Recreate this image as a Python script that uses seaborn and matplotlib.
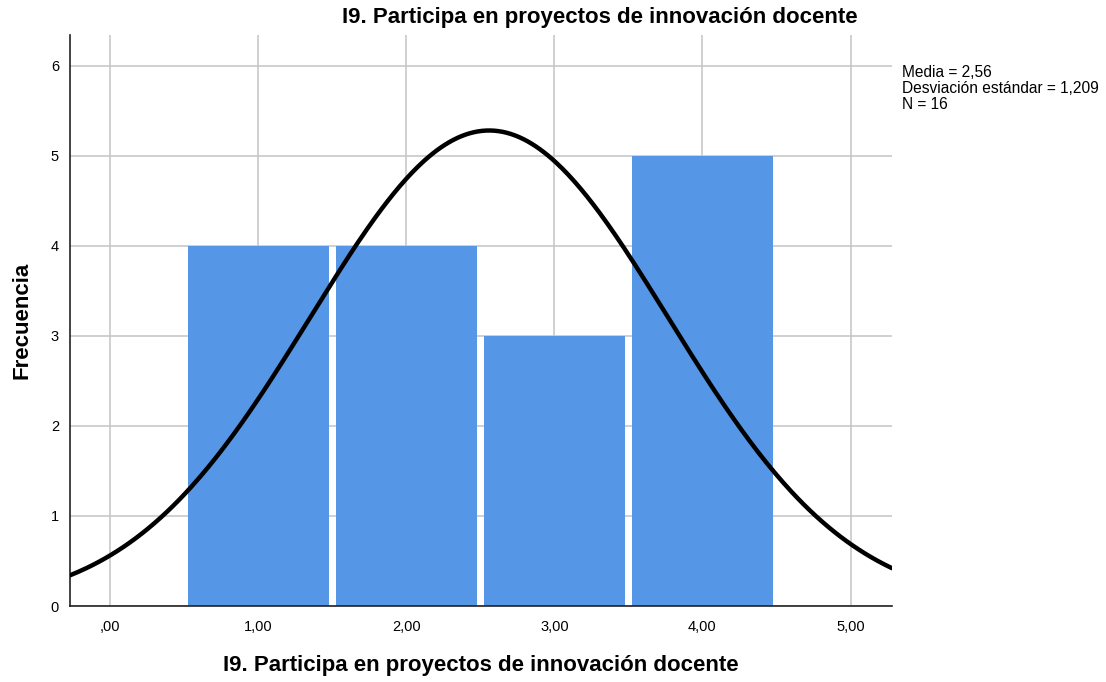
import numpy as np
import pandas as pd
import matplotlib
matplotlib.use('Agg')
import matplotlib.pyplot as plt
import seaborn as sns

# histogram data (value -> frequency)
valores = [1, 2, 3, 4]
frecuencias = [4, 4, 3, 5]
x_ticks = [0, 1, 2, 3, 4, 5]
x_labels = [',00', '1,00', '2,00', '3,00', '4,00', '5,00']
y_ticks = [0, 1, 2, 3, 4, 5, 6]

media = 2.56
desv = 1.209
n = 16

titulo = 'I9. Participa en proyectos de innovación docente'

sns.set_style('white')
plt.rcParams['font.family'] = ['Liberation Sans', 'DejaVu Sans']
plt.rcParams['text.color'] = 'black'
plt.rcParams['axes.labelcolor'] = 'black'

fig = plt.figure(figsize=(11.06, 6.82), dpi=100)
ax = fig.add_axes([0.0633, 0.1114, 0.7432, 0.8373])

df = pd.DataFrame({'valor': valores, 'frecuencia': frecuencias})
sns.histplot(data=df, x='valor', weights='frecuencia', discrete=True,
             shrink=0.953, color='#5596E6', alpha=1, edgecolor='none',
             linewidth=0, ax=ax, zorder=2)

# normal curve from the displayed mean / sd, scaled by N * bin width
xs = np.linspace(-0.27, 5.28, 400)
dens = n / (desv * np.sqrt(2 * np.pi)) * np.exp(-0.5 * ((xs - media) / desv) ** 2)
sns.lineplot(x=xs, y=dens, color='black', linewidth=3.2, ax=ax, zorder=3)

ax.set_xlim(-0.27, 5.28)
ax.set_ylim(0, 6.34)
ax.set_xticks(x_ticks)
ax.set_xticklabels(x_labels)
ax.set_yticks(y_ticks)
ax.grid(True, color='#c4c4c4', linewidth=1.1, zorder=0)
ax.set_axisbelow(True)
ax.tick_params(length=0, labelsize=10.5, colors='black', pad=10)
ax.tick_params(axis='y', pad=8)

for s in ['top', 'right']:
    ax.spines[s].set_visible(False)
for s in ['left', 'bottom']:
    ax.spines[s].set_color('#222222')
    ax.spines[s].set_linewidth(1.2)

ax.set_xlabel(titulo, fontsize=16, fontweight='bold', va='center')
ax.set_ylabel('Frecuencia', fontsize=16, fontweight='bold', va='center')
ax.xaxis.set_label_coords(0.5, (606 - 665) / 571)
ax.yaxis.set_label_coords((22 - 70) / 822, 0.5)

fig.text(600 / 1106, 1 - 17 / 682, titulo, ha='center', va='center',
         fontsize=16, fontweight='bold')

fig.text(902 / 1106, 1 - 65 / 682,
         f'Media = {media:.2f}'.replace('.', ',') + '\n'
         + f'Desviación estándar = {desv:.3f}'.replace('.', ',') + '\n'
         + f'N = {n}',
         ha='left', va='top', fontsize=11.2, linespacing=1.1)

fig.savefig('out.png', dpi=100)
